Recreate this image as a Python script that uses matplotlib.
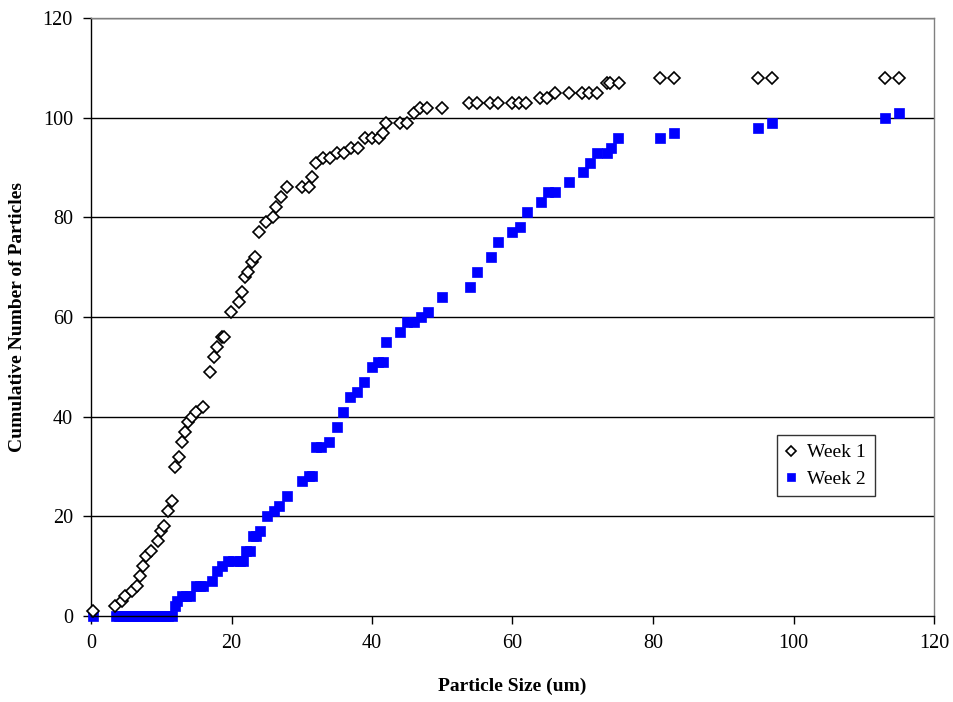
import matplotlib
matplotlib.use("Agg")
import matplotlib.pyplot as plt

week1_x = [0.3, 3.4, 4.4, 4.9, 5.8, 6.5, 7.0, 7.45, 7.9, 8.5, 9.5, 10.0, 10.4, 10.9, 11.5,
           11.9, 12.5, 12.9, 13.4, 13.85, 14.4, 14.9, 16.0, 16.9, 17.5, 18.0, 18.6, 18.9,
           19.9, 21.0, 21.5, 21.9, 22.4, 22.9, 23.4, 23.9, 24.9, 25.9, 26.4, 27.0, 27.9,
           30.0, 31.1, 31.5, 32.0, 33.0, 34.0, 35.0, 36.0, 37.0, 38.0, 39.0, 40.0, 41.0,
           41.5, 42.0, 44.0, 45.0, 46.0, 46.8, 47.9, 49.9, 53.8, 54.9, 56.8, 57.9, 59.9,
           60.9, 61.9, 63.9, 64.9, 66.0, 68.0, 69.85, 70.9, 72.0, 73.4, 73.9, 75.1,
           81.0, 83.0, 95.0, 97.0, 113.0, 115.0]
week1_y = [1, 2, 3, 4, 5, 6, 8, 10, 12, 13, 15, 17, 18, 21, 23,
           30, 32, 35, 37, 39, 40, 41, 42, 49, 52, 54, 56, 56,
           61, 63, 65, 68, 69, 71, 72, 77, 79, 80, 82, 84, 86,
           86, 86, 88, 91, 92, 92, 93, 93, 94, 94, 96, 96, 96,
           97, 99, 99, 99, 101, 102, 102, 102, 103, 103, 103, 103, 103,
           103, 103, 104, 104, 105, 105, 105, 105, 105, 107, 107, 107,
           108, 108, 108, 108, 108, 108]

week2_x = [0.3, 3.5, 4.0, 4.5, 5.0, 5.5, 6.0, 6.5, 7.0, 7.5, 8.0, 8.5, 9.0, 9.5, 10.0,
           10.5, 11.0, 11.5, 12.0, 12.3, 12.9, 13.5, 14.1, 14.9, 15.5, 16.0, 17.2, 17.9,
           18.7, 19.5, 20.2, 21.2, 21.6, 22.1, 22.6, 23.1, 23.5, 24.0, 25.0, 26.0, 26.8,
           27.9, 30.0, 31.0, 31.4, 32.0, 32.8, 33.9, 35.0, 35.9, 36.9, 37.9, 38.9, 40.0,
           40.8, 41.5, 42.0, 44.0, 45.0, 46.0, 47.0, 48.0, 50.0, 54.0, 55.0, 57.0, 58.0,
           60.0, 61.0, 62.0, 64.0, 65.0, 66.0, 68.0, 70.0, 71.0, 72.0, 73.4, 74.0, 75.0,
           81.0, 83.0, 95.0, 97.0, 113.0, 115.0]
week2_y = [0, 0, 0, 0, 0, 0, 0, 0, 0, 0, 0, 0, 0, 0, 0,
           0, 0, 0, 2, 3, 4, 4, 4, 6, 6, 6, 7, 9,
           10, 11, 11, 11, 11, 13, 13, 16, 16, 17, 20, 21, 22,
           24, 27, 28, 28, 34, 34, 35, 38, 41, 44, 45, 47, 50,
           51, 51, 55, 57, 59, 59, 60, 61, 64, 66, 69, 72, 75,
           77, 78, 81, 83, 85, 85, 87, 89, 91, 93, 93, 94, 96,
           96, 97, 98, 99, 100, 101]

x_ticks = [0, 20, 40, 60, 80, 100, 120]
y_ticks = [0, 20, 40, 60, 80, 100, 120]

plt.rcParams['font.family'] = ['Liberation Serif', 'DejaVu Serif']

fig = plt.figure(figsize=(9.54, 7.02), dpi=100)
ax = fig.add_axes([91/954, 1-616/702, (934-91)/954, (616-18)/702])

for yv in y_ticks[1:]:
    ax.axhline(yv, color='black', lw=1.0, zorder=1)

ax.plot(week1_x, week1_y, linestyle='none', marker='D', markersize=6.5,
        markerfacecolor='white', markeredgecolor='black', markeredgewidth=1.2,
        label='Week 1', zorder=3, clip_on=False)
ax.plot(week2_x, week2_y, linestyle='none', marker='s', markersize=7,
        markerfacecolor='#0000ff', markeredgecolor='#0000ff', markeredgewidth=0.5,
        label='Week 2', zorder=2, clip_on=False)

ax.set_xlim(0, 120)
ax.set_ylim(0, 120)
ax.set_xticks(x_ticks)
ax.set_yticks(y_ticks)
ax.tick_params(axis='both', direction='out', length=6, width=1, labelsize=14.5, pad=7)

for s in ['top', 'right']:
    ax.spines[s].set_color('#808080')
    ax.spines[s].set_linewidth(1)
for s in ['left', 'bottom']:
    ax.spines[s].set_color('black')
    ax.spines[s].set_linewidth(1)

ax.set_xlabel('Particle Size (um)', fontsize=14, fontweight='bold', labelpad=18)
ax.set_ylabel('Cumulative Number of Particles', fontsize=14, fontweight='bold', labelpad=12)

leg = ax.legend(loc='upper left', bbox_to_anchor=((777-91)/843, (616-435)/598),
                fontsize=14, frameon=True, fancybox=False, edgecolor='black',
                handlelength=0.5, handletextpad=0.6, borderpad=0.45, labelspacing=0.45,
                borderaxespad=0, markerscale=0.85)
leg.get_frame().set_linewidth(1)

fig.savefig('out.png', dpi=100)
